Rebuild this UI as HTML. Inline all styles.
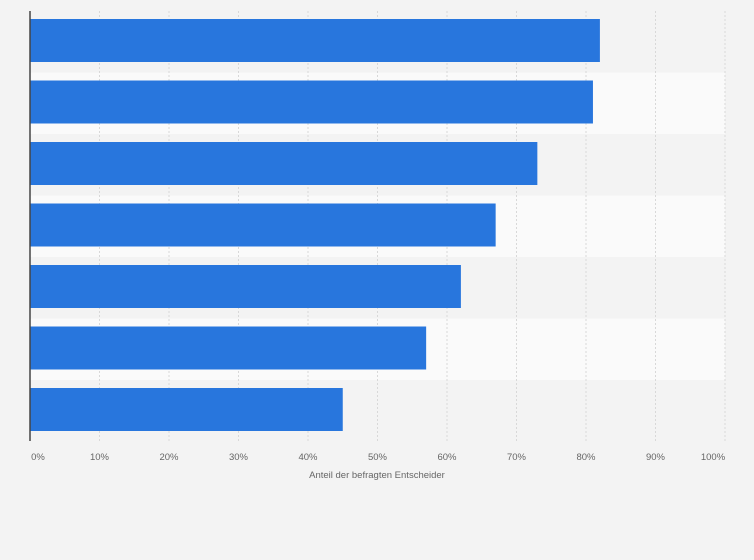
<!DOCTYPE html>
<html><head><meta charset="utf-8"><style>
body{margin:0;background:#f3f3f3;font-family:"Liberation Sans",sans-serif}
svg{display:block}
</style></head><body>
<svg width="754" height="560">
<rect width="754" height="560" fill="#f3f3f3"/>
<g id="bands"></g><g id="grid"></g><g id="bars"></g><g id="ticks"></g>
<line x1="30" y1="11" x2="30" y2="441" stroke="#444" stroke-width="1.5"/>
<text x="377" y="478" font-size="9.5" fill="#666" text-anchor="middle">Anteil der befragten Entscheider</text>
</svg>
<script>
const categories=["A","B","C","D","E","F","G"];
const values=[82,81,73,67,62,57,45];
const ticks=[0,10,20,30,40,50,60,70,80,90,100];
const tickLabels=["0%","10%","20%","30%","40%","50%","60%","70%","80%","90%","100%"];
const NS="http://www.w3.org/2000/svg";
const plotX0=30,plotX1=725,plotTop=11,rowH=61.5;
const xs=v=>plotX0+(v/100)*(plotX1-plotX0);
function mk(t,a,p){const e=document.createElementNS(NS,t);for(const k in a)e.setAttribute(k,a[k]);document.getElementById(p).appendChild(e);return e;}
categories.forEach((c,i)=>{
 const b=mk("rect",{x:plotX0,y:plotTop+i*rowH,width:plotX1-plotX0,height:rowH,fill:i%2?"#fafafa":"#f3f3f3"},"bands");
 
 
});
ticks.forEach((t,i)=>{
 if(t>0){const g=mk("line",{x1:xs(t),x2:xs(t),y1:plotTop,y2:441,stroke:"#d8d8d8","stroke-dasharray":"2,2"},"grid");
 
 }
 const l=mk("text",{x:xs(t)+(t===0?8:(t===100?-12:0)),y:460,"font-size":"9.5",fill:"#666","text-anchor":"middle"},"ticks");
 l.textContent=tickLabels[i];
 
 
});
values.forEach((v,i)=>{
 const r=mk("rect",{x:plotX0,y:plotTop+i*rowH+8,width:xs(v)-plotX0,height:43,fill:"#2876dd"},"bars");
 
 
});
</script>
</body></html>
